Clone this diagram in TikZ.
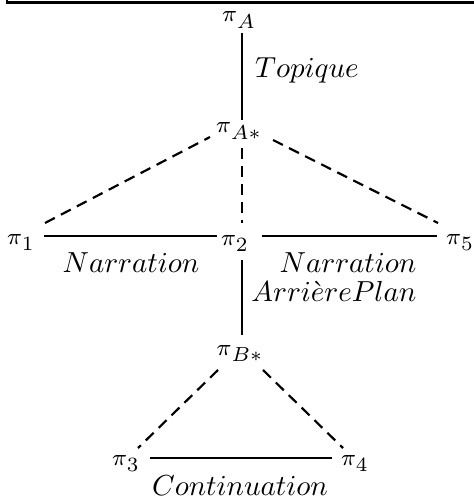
\documentclass[tikz,border=0pt]{standalone}
\usetikzlibrary{calc}
\newcommand\pisym{\hbox{\fontsize{8}{8}\selectfont$\pi$}}
\newcommand\pis[1]{\pisym_{\lower0.7pt\hbox{$\scriptstyle #1$}}}
\begin{document}
\begin{tikzpicture}[x=0.345pt,y=-0.345pt,
  pnode/.style={anchor=base, inner sep=0pt},
  lbl/.style={anchor=base, inner sep=0pt},
  rel/.style={line width=0.75pt},
  sub/.style={rel, dash pattern=on 3.8pt off 2.4pt}]
\useasboundingbox (0,0) rectangle (473,499);
% frame remnant at top
\draw[line width=0.9pt] (7,-3) -- (7,2.5) -- (480,2.5);
% nodes
\node[pnode] (pA)  at (239,22)  {$\pis{A}$};
\node[pnode] (pAs) at (239,133) {$\pis{A*}$};
\node[pnode] (p1)  at (21,244)  {$\pis{1}$};
\node[pnode] (p2)  at (235,245) {$\pis{2}$};
\node[pnode] (p5)  at (460,244) {$\pis{5}$};
\node[pnode] (pBs) at (240,355) {$\pis{B*}$};
\node[pnode] (p3)  at (126,465) {$\pis{3}$};
\node[pnode] (p4)  at (355,465) {$\pis{4}$};
% labels
\node[lbl] (lTop)  at (307,78)  {$Topique$};
\node[lbl] (lNarL) at (131,272) {$Narration$};
\node[lbl, anchor=base east] (lNarR) at (417,272)
  {\def\arraystretch{0.86}\begin{tabular}[t]{@{}r@{}}$Narration$\\ $Arri\grave{e}rePlan$\end{tabular}};
\node[lbl] (lCont) at (240,495) {$Continuation$};
% solid relations
\draw[rel] ($(pA.base)+(3,11)$) -- ($(pAs.base)+(3,-13)$);
\draw[rel] ($(p2.base)+(7,15)$) -- ($(pBs.base)+(2,-20)$);
\draw[rel] ($(p1.base)+(23,-8)$) -- ($(p2.base)+(-18,-9)$);
\draw[rel] ($(p2.base)+(27,-9)$) -- ($(p5.base)+(-23,-8)$);
\draw[rel] ($(p3.base)+(24,-7)$) -- ($(p4.base)+(-23,-7)$);
% dashed (subordination)
\draw[sub] ($(pAs.base)+(3,15)$) -- ($(p2.base)+(7,-22)$);
\draw[sub] ($(p1.base)+(24,-21)$) -- ($(pAs.base)+(-29,4)$);
\draw[sub] ($(pAs.base)+(34,7)$) -- ($(p5.base)+(-22,-21)$);
\draw[sub] ($(pBs.base)+(-22,15)$) -- ($(p3.base)+(12,-17)$);
\draw[sub] ($(pBs.base)+(23,15)$) -- ($(p4.base)+(-12,-17)$);
\end{tikzpicture}
\end{document}
